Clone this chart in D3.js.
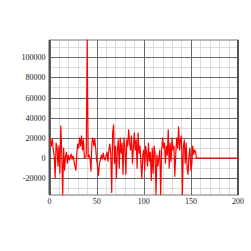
<!DOCTYPE html>
<html>
<head>
<meta charset="utf-8">
<script src="https://cdn.jsdelivr.net/npm/d3@7"></script>
<style>
body { margin: 0; background: #fff; }
text { font-family: "Liberation Serif", "DejaVu Serif", serif; font-size: 8px; fill: #222; }
</style>
</head>
<body>
<div id="chart"></div>
<script>
// signal values, one per sample index (0..155)
var signal = [
  20000, 18000, 12000, 19000, 8000, 3000, -20000, 15000, 10000, -8000,
  12000, -15000, 32000, 5000, -36500, 10000, -12000, 2000, 6000, -5000,
  3000, -2000, 1000, 4000, -1000, 2000, -3000, -8000, -12000, 5000,
  14000, 10000, 20000, 12000, 22000, 8000, 18000, 0, 1000, 2000,
  117000, 1000, 3000, 0, -13000, 15000, 20000, 12000, 19000, 10000,
  -2000, -8000, -17000, -5000, -2000, 3000, -1000, 5000, 0, -2000,
  2000, 6000, -3000, 8000, 14000, 4000, -34000, 25000, 33000, -5000,
  12000, -20000, 8000, 18000, -10000, 20000, 5000, 15000, -16000, 20000,
  10000, -16000, 18000, 12000, 28000, 15000, 8000, 22000, -5000, 10000,
  25000, 8000, 18000, -10000, 25000, 5000, 12000, -5000, -20000, 3000,
  8000, -12000, 12000, 5000, -8000, 15000, -3000, 6000, -22000, 10000,
  -15000, 12000, 5000, -36000, 3000, -8000, 0, 8000, -36000, 8000,
  20000, 10000, 15000, -5000, 12000, 3000, 28000, -10000, 15000, -3000,
  20000, 8000, 12000, -18000, 5000, 20000, 10000, 31000, 8000, 18000,
  22000, -36000, 10000, 18000, -5000, 15000, -10000, -16000, 3000, 10000,
  -12000, -6000, 12000, 4000, 8000, 6000
];
// flat tail after the signal ends
var tailX = [156, 200];
var tailY = [0, 0];

var xTicks = [0, 50, 100, 150, 200];
var yTicks = [-20000, 0, 20000, 40000, 60000, 80000, 100000];

var width = 251, height = 251;
var margin = {top: 40, right: 13, bottom: 56, left: 49.5};

var svg = d3.select("#chart").append("svg")
    .attr("width", width)
    .attr("height", height);

var pts = signal.map(function(v, i) { return [i, v]; });
tailX.forEach(function(x, i) { pts.push([x, tailY[i]]); });

var x = d3.scaleLinear().domain([0, 200]).range([margin.left, width - margin.right]);
var y = d3.scaleLinear().domain(d3.extent(signal)).range([height - margin.bottom, margin.top]);

var g = svg.append("g");

// minor grid
g.selectAll(".vminor").data(d3.range(0, 201, 10)).enter().append("line")
    .attr("x1", function(d) { return Math.round(x(d)) + 0.5; })
    .attr("x2", function(d) { return Math.round(x(d)) + 0.5; })
    .attr("y1", y.range()[1]).attr("y2", y.range()[0])
    .attr("stroke", "#dcdcdc").attr("stroke-width", 1);
g.selectAll(".hminor").data(y.ticks(16)).enter().append("line")
    .attr("x1", x.range()[0]).attr("x2", x.range()[1])
    .attr("y1", function(d) { return Math.round(y(d)) + 0.5; })
    .attr("y2", function(d) { return Math.round(y(d)) + 0.5; })
    .attr("stroke", "#dcdcdc").attr("stroke-width", 1);

// major grid
g.selectAll(".vmajor").data(xTicks).enter().append("line")
    .attr("x1", function(d) { return Math.round(x(d)) + 0.5; })
    .attr("x2", function(d) { return Math.round(x(d)) + 0.5; })
    .attr("y1", y.range()[1]).attr("y2", y.range()[0])
    .attr("stroke", "#6a6a6a").attr("stroke-width", 1);
g.selectAll(".hmajor").data(yTicks).enter().append("line")
    .attr("x1", x.range()[0]).attr("x2", x.range()[1])
    .attr("y1", function(d) { return Math.round(y(d)) + 0.5; })
    .attr("y2", function(d) { return Math.round(y(d)) + 0.5; })
    .attr("stroke", "#6a6a6a").attr("stroke-width", 1);

// frame
g.append("rect")
    .attr("x", x.range()[0]).attr("y", y.range()[1])
    .attr("width", x.range()[1] - x.range()[0])
    .attr("height", y.range()[0] - y.range()[1])
    .attr("fill", "none").attr("stroke", "#777").attr("stroke-width", 1);
g.append("line")
    .attr("x1", x.range()[0]).attr("x2", x.range()[0])
    .attr("y1", y.range()[1]).attr("y2", y.range()[0])
    .attr("stroke", "#555").attr("stroke-width", 2);
g.append("line")
    .attr("x1", x.range()[1]).attr("x2", x.range()[1])
    .attr("y1", y.range()[1]).attr("y2", y.range()[0])
    .attr("stroke", "#555").attr("stroke-width", 2);

// the signal
var line = d3.line().x(function(d) { return x(d[0]); }).y(function(d) { return y(d[1]); });
svg.append("path")
    .datum(pts)
    .attr("d", line)
    .attr("fill", "none")
    .attr("stroke", "#ff0000")
    .attr("stroke-width", 1.2)
    .attr("stroke-linejoin", "round");

// tick labels
svg.selectAll(".xl").data(xTicks).enter().append("text")
    .attr("x", function(d) { return x(d); })
    .attr("y", y.range()[0] + 9)
    .attr("text-anchor", "middle")
    .text(function(d) { return d; });
svg.selectAll(".yl").data(yTicks).enter().append("text")
    .attr("x", margin.left - 4)
    .attr("y", function(d) { return y(d) + 3; })
    .attr("text-anchor", "end")
    .text(function(d) { return d < 0 ? "-" + Math.abs(d) : d; });
</script>
</body>
</html>
